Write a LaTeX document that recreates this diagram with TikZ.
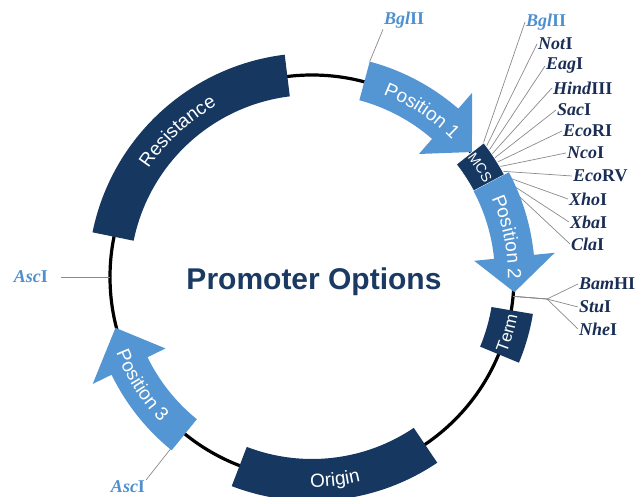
\documentclass[tikz,border=0pt]{standalone}
\usepackage{fontspec}
\setmainfont{Liberation Serif}
\setsansfont{Liberation Sans}
\usepackage{tikz}
\usetikzlibrary{decorations.text}
\definecolor{navy}{HTML}{163860}
\definecolor{sky}{HTML}{5496D4}
\definecolor{skytext}{HTML}{4F8FCF}
\definecolor{enzink}{HTML}{1A2E55}
\definecolor{titleink}{HTML}{1B3A63}
\definecolor{siteline}{HTML}{8A8A8A}
\tikzset{
  backbone/.style ={draw=black, line width=3.2pt},
  block/.style    ={fill=navy},
  cassette/.style ={fill=sky},
  site/.style     ={draw=siteline, line width=0.7pt},
  enz/.style      ={font=\bfseries\fontsize{18}{18}\selectfont, text=enzink,
                    inner sep=1pt, anchor=west},
  enzb/.style     ={enz, text=skytext},
  arclabel/.style 2 args={decorate, decoration={text along path,
                    text align=center, text color=white,
                    text={|\sffamily\fontsize{#1}{#1}\selectfont|#2}}}
}

\begin{document}
\begin{tikzpicture}[x=1pt, y=1pt]
  \useasboundingbox (-312,-220) rectangle (328,277);

  % Backbone
  \draw[backbone] (0,0) circle[radius=202];

  % Sites on the ring
  \coordinate (p1tail)   at (75:223);
  \coordinate (leftsite) at (180:202);
  \coordinate (p3tail)   at (230.5:212);
  \coordinate (termsite) at (-5.5:202);
  \coordinate (fan)      at (235,-22);

  % MCS enzymes
  \node[enzb] (bgl2)  at (213,255) {\textit{Bgl}II};
  \node[enz]  (not)   at (225,233) {\textit{Not}I};
  \node[enz]  (eag)   at (233,211) {\textit{Eag}I};
  \node[enz]  (hind)  at (240,189) {\textit{Hind}III};
  \node[enz]  (sac)   at (244,167) {\textit{Sac}I};
  \node[enz]  (ecoRI) at (250,146) {\textit{Eco}RI};
  \node[enz]  (nco)   at (254,124) {\textit{Nco}I};
  \node[enz]  (ecoRV) at (260,101) {\textit{Eco}RV};
  \node[enz]  (xho)   at (256,78)  {\textit{Xho}I};
  \node[enz]  (xba)   at (257,55)  {\textit{Xba}I};
  \node[enz]  (cla)   at (258,33)  {\textit{Cla}I};
  \foreach \nm [count=\i] in {bgl2,not,eag,hind,sac,ecoRI,nco,ecoRV,xho,xba,cla}
    \draw[site] (\nm.west) -- ({38.5-1.1*\i}:214);

  % Enzymes before the terminator
  \node[enz] (bam) at (266,-7)  {\textit{Bam}HI};
  \node[enz] (stu) at (266,-30) {\textit{Stu}I};
  \node[enz] (nhe) at (266,-52) {\textit{Nhe}I};
  \foreach \nm in {bam,stu,nhe}
    \draw[site] (termsite) -- (fan) -- (\nm.west);

  % Single sites
  \node[enzb] (bgl1) at (71,257) {\textit{Bgl}II};
  \draw[site] (p1tail) -- (bgl1.south west);
  \node[enzb, anchor=east] (asc1) at (-263,0) {\textit{Asc}I};
  \draw[site, shorten <=12pt] (asc1.east) -- (leftsite);
  \node[enzb, anchor=center] (asc2) at (-184,-210) {\textit{Asc}I};
  \draw[site] (asc2.north east) -- (p3tail);

  % Resistance, origin, terminator
  \foreach \a/\b in {168.5/97, 304/249, -9.5/-22.5}
    \fill[block] (\a:224) arc[start angle=\a, end angle=\b, radius=224]
      -- (\b:182) arc[start angle=\b, end angle=\a, radius=182] -- cycle;
  \filldraw[block, draw=white, line width=0.8pt] (38:218)
    arc[start angle=38, end angle=28, radius=218]
    -- (28:183) arc[start angle=28, end angle=38, radius=183] -- cycle;

  % Promoter positions
  \foreach \tail/\base/\tip in {75/49/38, 28/5.7/-4.3, 231/206/194.5}
    \fill[cassette] (\tail:223) arc[start angle=\tail, end angle=\base, radius=223]
      -- (\base:244) -- (\tip:203) -- (\base:163) -- (\base:183)
      arc[start angle=\base, end angle=\tail, radius=183] -- cycle;

  % Labels along the ring
  \path[arclabel={19}{Resistance}] (168.5:196) arc[start angle=168.5, end angle=97, radius=196];
  \path[arclabel={19}{Position 1}] (75:196) arc[start angle=75, end angle=38, radius=196];
  \path[arclabel={14}{MCS}]        (40:196) arc[start angle=40, end angle=26, radius=196];
  \path[arclabel={19}{Position 2}] (28:196) arc[start angle=28, end angle=-5, radius=196];
  \path[arclabel={17}{Term}]       (-26:209) arc[start angle=-26, end angle=-6, radius=209];
  \path[arclabel={19}{Origin}]     (249:210) arc[start angle=249, end angle=304, radius=210];
  \path[arclabel={19}{Position 3}] (194:210) arc[start angle=194, end angle=231, radius=210];

  \node[font=\sffamily\bfseries\fontsize{30}{30}\selectfont, text=titleink,
        anchor=base] (title) at (2,-13) {Promoter Options};
\end{tikzpicture}
\end{document}
